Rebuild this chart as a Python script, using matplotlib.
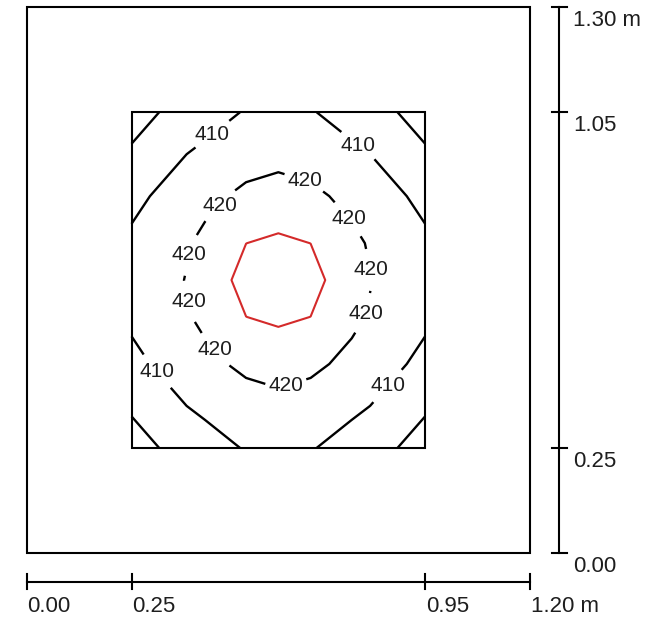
import numpy as np
import matplotlib
matplotlib.use('Agg')
import matplotlib.pyplot as plt
from matplotlib.patches import Rectangle

plt.rcParams['font.family'] = ['Liberation Sans', 'DejaVu Sans']

# ---- data -------------------------------------------------------------
room_w, room_h = 1.20, 1.30                      # outer outline (m)
area_x0, area_x1 = 0.25, 0.95                    # calculation area (m)
area_y0, area_y1 = 0.25, 1.05

# calculation grid nodes (m)
grid_x = [0.25, 0.3375, 0.425, 0.523, 0.60, 0.677, 0.775, 0.8625, 0.95]
grid_y = [0.25, 0.35, 0.45, 0.562, 0.65, 0.738, 0.85, 0.95, 1.05]

# illuminance values (lx) on the grid, rows from bottom to top
illuminance = [
    [394, 402, 406, 410.7, 413, 410.7, 406, 402, 394],
    [402, 408, 412, 415, 417, 415, 412, 408, 402],
    [408, 412, 417, 422.5, 424, 422.5, 417, 412, 408],
    [411.4, 415.5, 422.5, 429.95, 431.6, 429.95, 422.5, 415.5, 411.4],
    [413, 417, 424, 433.3, 435, 433.3, 424, 417, 413],
    [411.4, 415.5, 422.5, 429.95, 431.6, 429.95, 422.5, 415.5, 411.4],
    [408, 412, 417, 422.5, 424, 422.5, 417, 412, 408],
    [402, 408, 412, 415, 417, 415, 412, 408, 402],
    [394, 402, 406, 410.7, 413, 410.7, 406, 402, 394],
]

plain_levels = [400]
labelled_levels = [410, 420]
max_level = [430]

x_ticks = [0.00, 0.25, 0.95, 1.20]
x_tick_labels = ['0.00', '0.25', '0.95', '1.20 m']
y_ticks = [0.00, 0.25, 1.05, 1.30]
y_tick_labels = ['0.00', '0.25', '1.05', '1.30 m']

# approximate places for the isoline labels (layout)
label_pos = [
    (0.441, 1.000), (0.791, 0.972), (0.310, 0.432), (0.862, 0.396),
    (0.660, 0.876), (0.469, 0.821), (0.759, 0.789), (0.389, 0.710),
    (0.819, 0.674), (0.384, 0.598), (0.799, 0.571), (0.457, 0.491),
    (0.616, 0.404),
]

# ---- figure -----------------------------------------------------------
fig = plt.figure(figsize=(6.46, 6.21), dpi=100)
ax = fig.add_axes([0, 0, 1, 1])
ax.set_xlim(-0.0637, 1.4766)
ax.set_ylim(-0.1629, 1.3178)
ax.axis('off')

ink = '#1e1e1e'
lw = 1.5

ax.add_patch(Rectangle((0, 0), room_w, room_h, fill=False, ec='black', lw=lw))
ax.add_patch(Rectangle((area_x0, area_y0), area_x1 - area_x0, area_y1 - area_y0,
                       fill=False, ec='black', lw=lw, zorder=3))

X, Y = np.meshgrid(grid_x, grid_y)
Z = np.array(illuminance, dtype=float)

ax.contour(X, Y, Z, levels=plain_levels, colors='black', linewidths=1.7)
cs = ax.contour(X, Y, Z, levels=labelled_levels, colors='black', linewidths=1.7)
texts = ax.clabel(cs, manual=label_pos, inline=True,
                  inline_spacing=4, fmt='%d', fontsize=15, colors=ink)
for t in texts:
    t.set_rotation(0)

ax.contour(X, Y, Z, levels=max_level, colors='#d42a2a', linewidths=1.5)

# ---- dimension rulers ---------------------------------------------------
yb = -0.0691
tk = 0.018
ax.plot([x_ticks[0], x_ticks[-1]], [yb, yb], color='black', lw=lw)
for xv, lab in zip(x_ticks, x_tick_labels):
    ax.plot([xv, xv], [yb - tk, yb + tk], color='black', lw=lw)
    ax.text(xv + 0.002, -0.1280, lab, ha='left', va='center', fontsize=16, color=ink)

xr = 1.270
ax.plot([xr, xr], [y_ticks[0], y_ticks[-1]], color='black', lw=lw)
for yv, lab in zip(y_ticks, y_tick_labels):
    ax.plot([xr - tk, xr + tk], [yv, yv], color='black', lw=lw)
    ax.text(1.302, yv - 0.032, lab, ha='left', va='center', fontsize=16, color=ink)

fig.savefig('out.png', dpi=100)
